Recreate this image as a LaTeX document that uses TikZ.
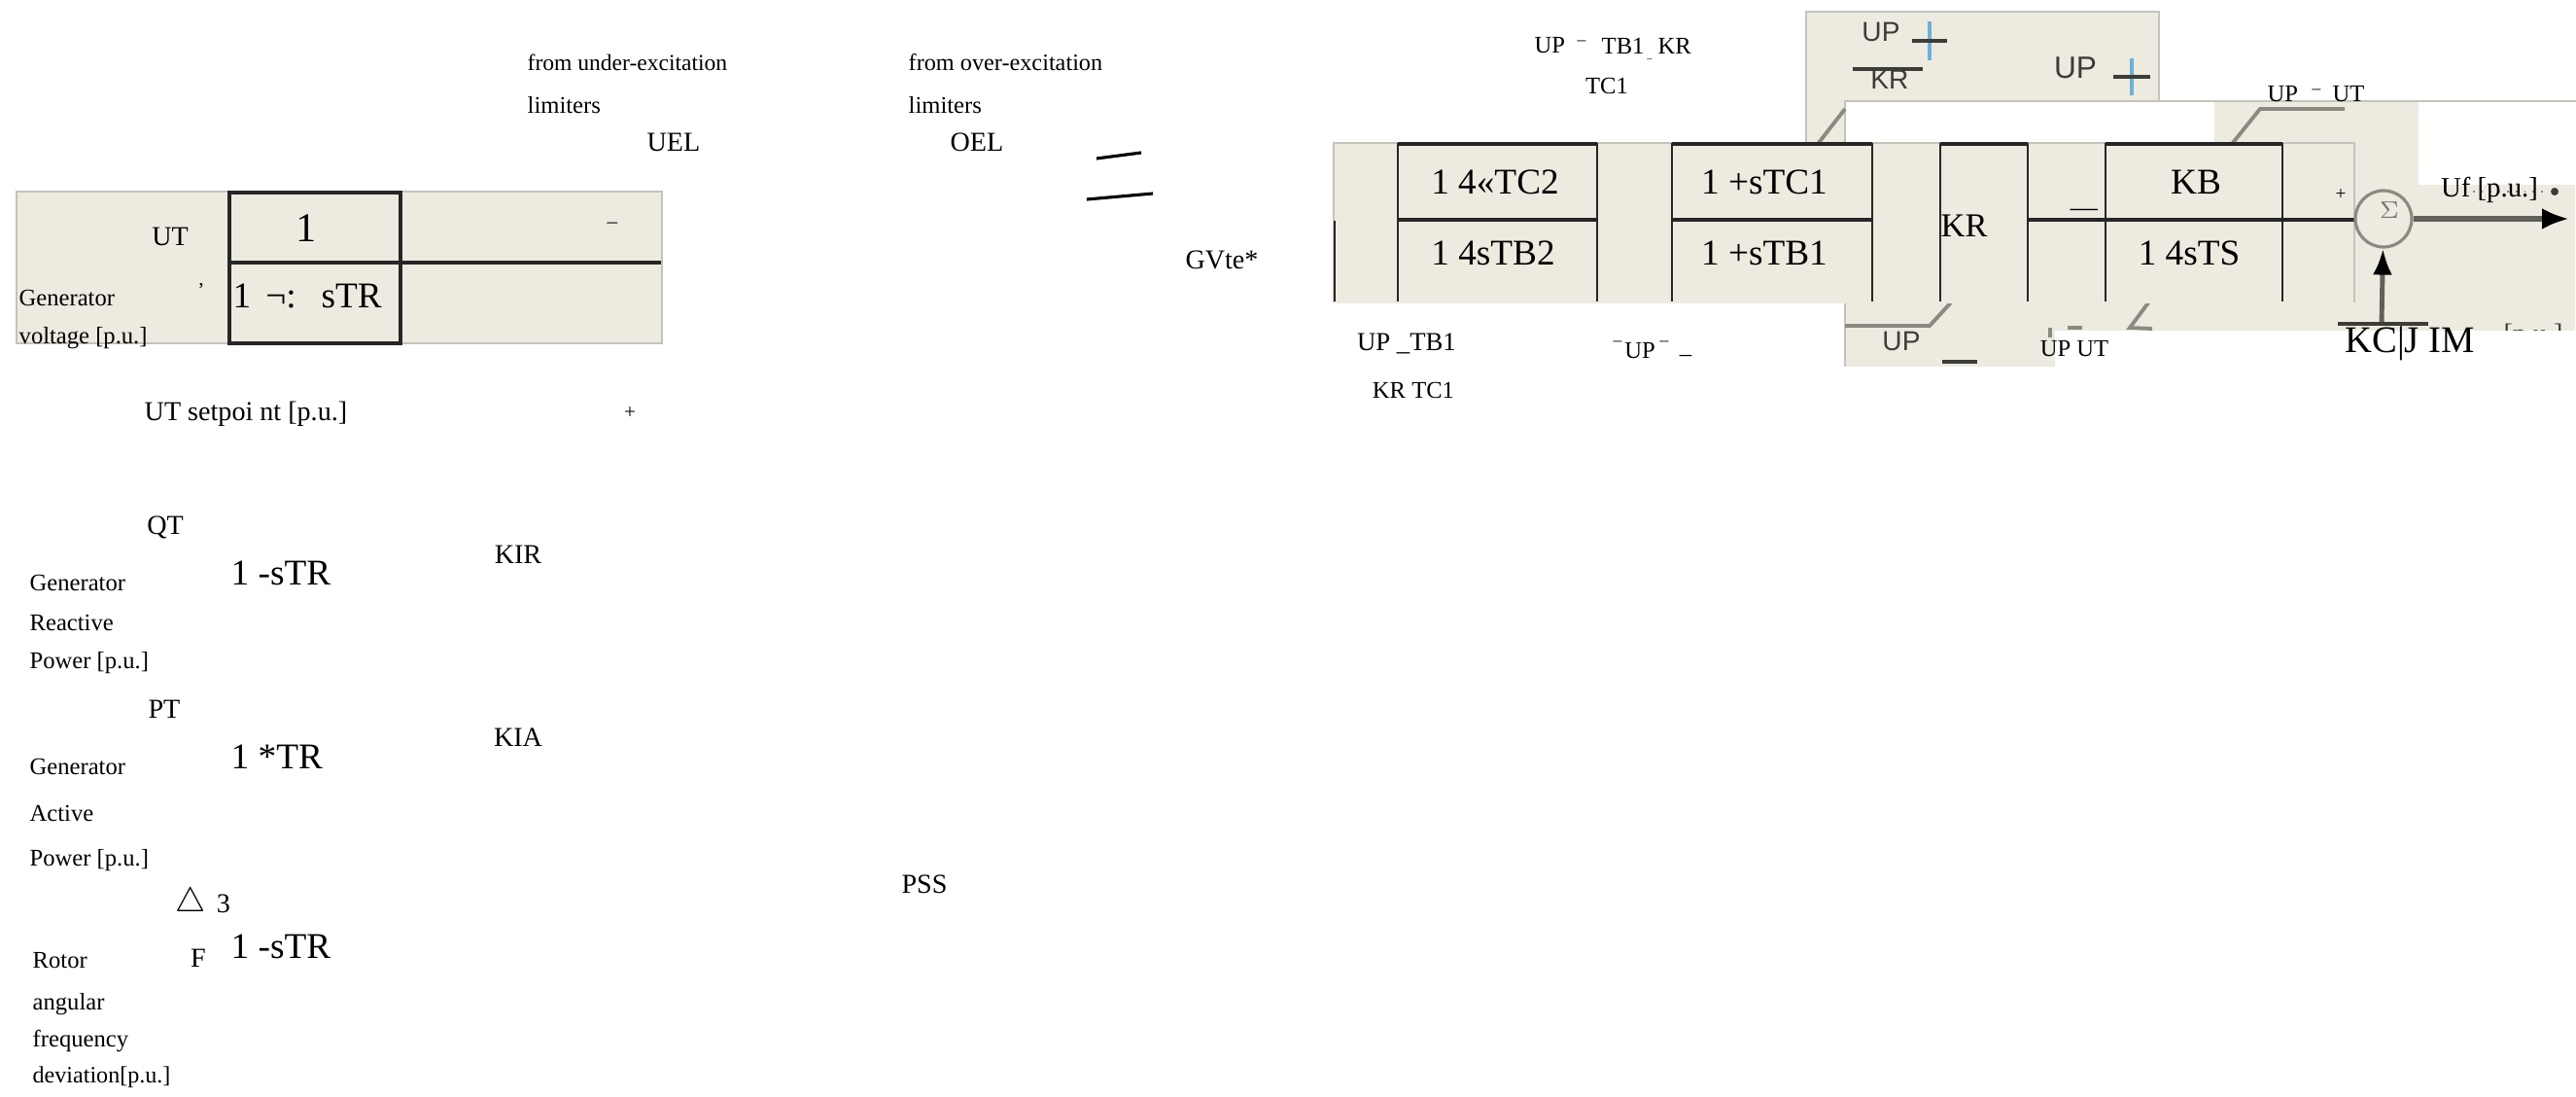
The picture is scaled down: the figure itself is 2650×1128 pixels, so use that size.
\documentclass[tikz,border=0pt]{standalone}
\usepackage{fontspec}
\setmainfont{Liberation Serif}
\newfontfamily\scanfont{Liberation Sans}
\usepackage{xcolor}
\usepackage{tikz}
\usetikzlibrary{arrows.meta,positioning}
\definecolor{panelBeige}{HTML}{EDEAE0}
\definecolor{panelEdge}{HTML}{C4C3BB}
\definecolor{scanGray}{HTML}{8A8A80}
\definecolor{scanDark}{HTML}{3C3C38}
\definecolor{scanBlue}{HTML}{6FB0D8}
\tikzset{
  lblsmall/.style={inner sep=0pt, anchor=west, font=\fontsize{7}{8}\selectfont},
  lblmid/.style={inner sep=0pt, font=\fontsize{8}{9}\selectfont},
  lblbig/.style={inner sep=0pt, font=\fontsize{10.6}{12}\selectfont},
  lblscan/.style={inner sep=0pt, text=scanDark, font=\scanfont\fontsize{8}{9}\selectfont},
  panel/.style={fill=panelBeige, draw=panelEdge, line width=0.4pt},
  rule/.style={black!85, line width=0.75pt},
  blurline/.style={scanGray, line width=1.1pt},
  blurbar/.style={scanDark, line width=1.4pt}
}
\begin{document}
\begin{tikzpicture}[x=0.1mm, y=-0.1mm]
  \useasboundingbox (0,0) rectangle (2650,1128);
  % scanned pieces behind the main block
  \fill[panel] (1858,12) rectangle (2221,150);
  \fill[white] (1898,104) rectangle (2650,377);
  \draw[panelEdge, line width=0.4pt] (1898,377) -- (1898,104) -- (2650,104);
  \fill[panelBeige] (2278,105) rectangle (2488,190);
  \fill[panelBeige] (2278,190) rectangle (2649,340);
  \fill[panelBeige] (1899,310) rectangle (2278,340);
  \fill[panelBeige] (1899,340) rectangle (2114,377);
  \node[lblscan] (upa) at (1935,33) {UP};
  \node[lblscan] (krb) at (1944,82) {KR};
  \node[lblscan, font=\scanfont\fontsize{9}{10}\selectfont] (upc) at (2135,70) {UP};
  \node[lblscan] (upd) at (1956,351) {UP};
  \draw[scanBlue, line width=0.9pt] (1985,22) -- (1985,62);
  \draw[scanBlue, line width=0.9pt] (2193,60) -- (2193,98);
  \draw[blurbar] (1967,42) -- (2003,42);
  \draw[blurbar] (2174,79) -- (2212,79);
  \draw[blurbar] (1906,71) -- (1978,71);
  \draw[blurbar] (1998,372) -- (2034,372);
  \draw[blurline] (1898,112) -- (1870,148);
  \draw[blurline] (2412,112) -- (2325,112) -- (2296,148);
  \draw[blurline] (1898,335) -- (1985,335) -- (2008,310);
  \draw[blurline] (2127,337) -- (2142,337);
  \draw[blurline] (2109,337) -- (2109,347);
  \draw[blurline] (2214,338) -- (2191,337) -- (2211,310);
  \node[lblmid, text=scanDark] (unitcut) at (2606,346) {[p.u.]};
  \fill[white] (2114,340) rectangle (2650,378);
  \draw[scanGray, dotted, line width=0.5pt] (2535,197) -- (2620,197);
  \fill[scanDark] (2628,197) circle (4);
  % main block
  \fill[panel] (1372,147) rectangle (2422,310);
  \fill[panelBeige] (1373,148) rectangle (2421,312);
  \draw[panelEdge, line width=0.4pt] (1372,310) -- (1372,147) -- (2422,147) -- (2422,310);
  \draw[rule] (1373,227) -- (1373,310);
  \foreach \xa in {1438,1643,1720,1926,1996,2086,2166,2348}
    \draw[rule] (\xa,147) -- (\xa,310);
  \foreach \xa/\xb in {1438/1643,1720/1926,1996/2086,2166/2348}
    \draw[black!85, line width=1pt] (\xa,148) -- (\xb,148);
  \foreach \xa/\xb in {1438/1643,1720/1926,2086/2422}
    \draw[black!85, line width=1pt] (\xa,226) -- (\xb,226);
  \node[lblbig] (numa) at (1538,187) {1 4«TC2};
  \node[lblbig] (dena) at (1536,260) {1 4sTB2};
  \node[lblbig] (numb) at (1815,187) {1 +sTC1};
  \node[lblbig] (denb) at (1815,260) {1 +sTB1};
  \node[lblbig, anchor=west, font=\fontsize{9.8}{11}\selectfont] (kr) at (1996,232) {KR};
  \node[lblbig] (kb) at (2259,187) {KB};
  \node[lblbig] (dene) at (2252,260) {1 4sTS};
  \node[lblmid] (minusb) at (2144,219) {—};
  \node[lblmid, font=\fontsize{5.5}{6}\selectfont] (plusb) at (2408,200) {+};
  % summing point and output
  \node[circle, draw=scanGray, line width=0.9pt, fill=panelBeige, minimum size=5.8mm, inner sep=0pt] (sum) at (2452,225) {};
  \node[inner sep=0pt, text=scanDark!70, font=\fontsize{7.5}{8}\selectfont] (sigma) at (2458,216) {$\Sigma$};
  \coordinate (out) at (2643,225);
  \coordinate (kcbar) at (2450,333);
  \draw[-{Latex[length=2.8mm, width=2.2mm, black]}, scanGray!70!black, line width=1.5pt] (sum) -- (out);
  \draw[-{Latex[length=2.7mm, width=2mm, black]}, scanGray!70!black, line width=1.4pt] (kcbar) -- (sum);
  \draw[blurbar] (2405,333) -- (2498,333);
  \node[lblmid, font=\fontsize{8.2}{9}\selectfont] (uf) at (2561,195) {Uf [p.u.]};
  \node[lblbig, font=\fontsize{11}{12}\selectfont] (kc) at (2479,353) {KC|J IM};
  % labels round the main block
  \node[lblsmall] (upl) at (1578,47) {UP};
  \node[lblsmall] (tbl) at (1647,47) {TB1};
  \node[lblsmall] (krl) at (1705,47) {KR};
  \node[inner sep=0pt, font=\fontsize{5}{6}\selectfont] (markl) at (1627,44) {--};
  \node[inner sep=0pt, font=\fontsize{3}{4}\selectfont] (markm) at (1697,62) {--};
  \node[lblsmall, anchor=center] (tcl) at (1653,88) {TC1};
  \node[lblsmall] (upr) at (2332,97) {UP};
  \node[lblsmall] (utr) at (2399,97) {UT};
  \node[inner sep=0pt, font=\fontsize{5}{6}\selectfont] (markr) at (2383,94) {--};
  \node[lblsmall, anchor=center, font=\fontsize{7.6}{8}\selectfont] (uptb) at (1447,353) {UP \_TB1};
  \node[lblsmall, anchor=center] (krtc) at (1454,401) {KR TC1};
  \node[lblsmall, anchor=center] (upm) at (1687,361) {UP};
  \node[inner sep=0pt, font=\fontsize{5}{6}\selectfont] (marka) at (1664,353) {--};
  \node[inner sep=0pt, font=\fontsize{5}{6}\selectfont] (markb) at (1712,353) {--};
  \node[lblsmall, anchor=center] (markc) at (1734,365) {\_};
  \node[lblsmall, anchor=center] (uput) at (2134,359) {UP UT};
  % voltage transducer panel
  \fill[panel] (17,197) rectangle (681,353);
  \draw[black!85, line width=0.9pt] (236,198) rectangle (412,353);
  \draw[black!85, line width=1.1pt] (236,270) -- (680,270);
  \node[lblmid] (ut) at (175,243) {UT};
  \node[lblbig, font=\fontsize{12}{13}\selectfont] (numt) at (315,235) {1};
  \node[lblbig, anchor=west] (dent) at (239,304) {1\hspace{1.5mm}¬:\hspace{2.6mm}sTR};
  \node[inner sep=0pt, font=\fontsize{6}{7}\selectfont] (minust) at (630,232) {–};
  \node[inner sep=0pt, font=\fontsize{6}{7}\selectfont] (tick) at (207,298) {'};
  \node[lblsmall] (gena) at (19,306) {Generator};
  \node[lblsmall] (volt) at (19,348) {voltage [p.u.]};
  \node[lblmid, anchor=west] (setp) at (148,426) {UT setpoi nt [p.u.]};
  \node[inner sep=0pt, font=\fontsize{6}{7}\selectfont] (plust) at (648,425) {+};
  % limiters
  \node[lblsmall, font=\fontsize{6.7}{8}\selectfont] (fromu) at (542,64) {from under-excitation};
  \node[lblsmall] (limu) at (542,108) {limiters};
  \node[lblmid] (uel) at (693,146) {UEL};
  \node[lblsmall, font=\fontsize{6.9}{8}\selectfont] (fromo) at (934,64) {from over-excitation};
  \node[lblsmall] (limo) at (934,108) {limiters};
  \node[lblmid] (oel) at (1005,146) {OEL};
  \draw[black, line width=0.9pt] (1128,163) -- (1174,157);
  \draw[black, line width=0.9pt] (1118,205) -- (1186,199);
  \node[lblmid] (gvte) at (1257,267) {GVte*};
  % reactive power input
  \node[lblmid] (qt) at (170,542) {QT};
  \node[lblsmall] (genq) at (30,599) {Generator};
  \node[lblsmall] (reac) at (30,640) {Reactive};
  \node[lblsmall] (powq) at (30,682) {Power [p.u.]};
  \node[lblbig, anchor=west] (tfq) at (237,589) {1 -sTR};
  \node[lblmid] (kir) at (533,570) {KIR};
  % active power input
  \node[lblmid] (pt) at (169,729) {PT};
  \node[lblsmall] (genp) at (30,788) {Generator};
  \node[lblsmall] (acti) at (30,836) {Active};
  \node[lblsmall] (powp) at (30,885) {Power [p.u.]};
  \node[lblbig, anchor=west] (tfp) at (237,778) {1 *TR};
  \node[lblmid] (kia) at (533,758) {KIA};
  % rotor frequency input
  \node[inner sep=0pt, font=\fontsize{10}{11}\selectfont] (tri) at (196,929) {$\bigtriangleup$};
  \node[lblmid] (three) at (230,929) {3};
  \node[lblmid] (ff) at (204,985) {F};
  \node[lblbig, anchor=west] (tff) at (237,973) {1 -sTR};
  \node[lblsmall] (rot) at (33,988) {Rotor};
  \node[lblsmall] (ang) at (33,1033) {angular};
  \node[lblsmall] (fre) at (33,1070) {frequency};
  \node[lblsmall, font=\fontsize{6.85}{8}\selectfont] (dev) at (33,1108) {deviation[p.u.]};
  \node[lblmid] (pss) at (951,909) {PSS};
\end{tikzpicture}
\end{document}
